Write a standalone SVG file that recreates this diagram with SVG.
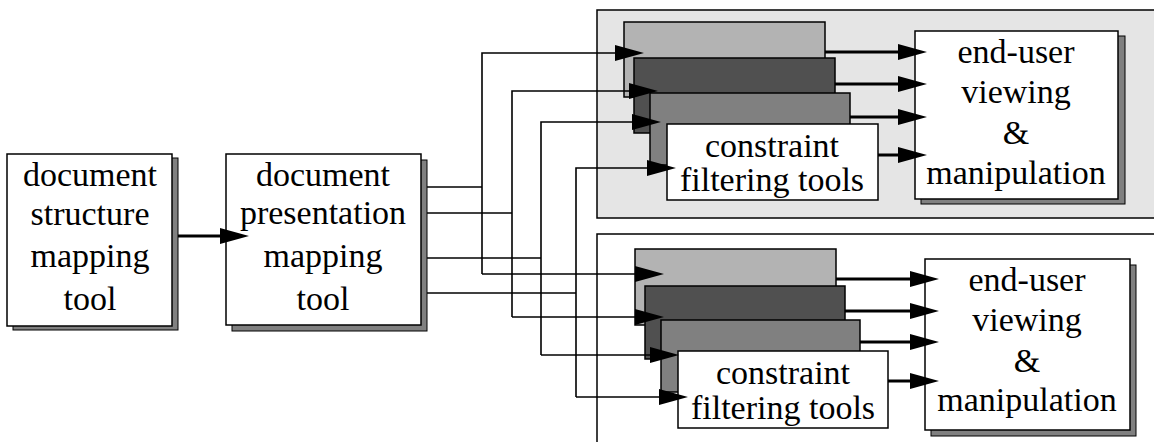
<svg xmlns="http://www.w3.org/2000/svg" width="1154" height="442" viewBox="0 0 1154 442">
<style>
  .lbl { font-family: "Liberation Serif", "Times New Roman", serif; font-size: 34px; fill: #000; text-anchor: middle; }
  .box { fill: #fff; stroke: #000; stroke-width: 1.5; }
  .shadow { fill: #808080; stroke: #000; stroke-width: 1; }
  .thin { fill: none; stroke: #000; stroke-width: 1.6; }
  .thick { fill: none; stroke: #000; stroke-width: 3; }
  .s1 { fill: #b3b3b3; stroke: #000; stroke-width: 1.5; }
  .s2 { fill: #505050; stroke: #000; stroke-width: 1.5; }
  .s3 { fill: #808080; stroke: #000; stroke-width: 1.5; }
</style>
<defs>
  <marker id="ah" markerUnits="userSpaceOnUse" markerWidth="30" markerHeight="18" refX="18" refY="9" orient="auto" viewBox="0 0 30 18">
    <path d="M0,1 L29,9 L0,17 z" fill="#000"/>
  </marker>
</defs>
<rect width="1154" height="442" fill="#fff"/>

<g id="panel-top">
  <rect x="597" y="10" width="580" height="208" fill="#e5e5e5" stroke="#000" stroke-width="1.5"/>
</g>
<g id="panel-bottom">
  <rect x="597" y="234" width="580" height="230" fill="#fff" stroke="#000" stroke-width="1.5"/>
</g>

<g id="structure-tool">
  <rect class="shadow" x="13" y="158" width="165" height="172"/>
  <rect class="box" x="7" y="154" width="165" height="172"/>
  <text class="lbl" x="90" y="186">document</text>
  <text class="lbl" x="90" y="225">structure</text>
  <text class="lbl" x="90" y="267">mapping</text>
  <text class="lbl" x="90" y="310">tool</text>
</g>

<g id="presentation-tool">
  <rect class="shadow" x="232" y="160" width="195" height="171"/>
  <rect class="box" x="226" y="154" width="195" height="171"/>
  <text class="lbl" x="323" y="186">document</text>
  <text class="lbl" x="323" y="224">presentation</text>
  <text class="lbl" x="323" y="267">mapping</text>
  <text class="lbl" x="323" y="310">tool</text>
</g>

<g id="stack-top">
  <rect class="s1" x="624" y="22" width="201" height="75"/>
  <rect class="s2" x="634" y="58" width="201" height="75"/>
  <rect class="s3" x="650" y="93" width="200" height="72"/>
  <rect class="box" x="667" y="124" width="211" height="76"/>
  <text class="lbl" x="772" y="157">constraint</text>
  <text class="lbl" x="772" y="191">filtering tools</text>
</g>

<g id="enduser-top">
  <rect class="shadow" x="921" y="36" width="204" height="168"/>
  <rect class="box" x="915" y="31" width="203" height="168"/>
  <text class="lbl" x="1016" y="63">end-user</text>
  <text class="lbl" x="1016" y="103">viewing</text>
  <text class="lbl" x="1016" y="144">&amp;</text>
  <text class="lbl" x="1016" y="184">manipulation</text>
</g>

<g id="stack-bottom">
  <rect class="s1" x="635" y="249" width="201" height="76"/>
  <rect class="s2" x="645" y="286" width="200" height="73"/>
  <rect class="s3" x="661" y="320" width="199" height="72"/>
  <rect class="box" x="678" y="351" width="210" height="77"/>
  <text class="lbl" x="783" y="384">constraint</text>
  <text class="lbl" x="783" y="419">filtering tools</text>
</g>

<g id="enduser-bottom">
  <rect class="shadow" x="931" y="265" width="205" height="171"/>
  <rect class="box" x="925" y="259" width="205" height="171"/>
  <text class="lbl" x="1027" y="291">end-user</text>
  <text class="lbl" x="1027" y="331">viewing</text>
  <text class="lbl" x="1027" y="372">&amp;</text>
  <text class="lbl" x="1027" y="411">manipulation</text>
</g>

<g id="connectors">
  <path class="thick" d="M178,236 H238" marker-end="url(#ah)"/>

  <path class="thin" d="M427,187 H482"/>
  <path class="thin" d="M482,274 V53 H633" marker-end="url(#ah)"/>
  <path class="thin" d="M482,274 H653" marker-end="url(#ah)"/>

  <path class="thin" d="M427,213 H512"/>
  <path class="thin" d="M512,317 V91 H647" marker-end="url(#ah)"/>
  <path class="thin" d="M512,317 H653" marker-end="url(#ah)"/>

  <path class="thin" d="M427,258 H541"/>
  <path class="thin" d="M541,355 V122 H650" marker-end="url(#ah)"/>
  <path class="thin" d="M541,355 H668" marker-end="url(#ah)"/>

  <path class="thin" d="M427,293 H576"/>
  <path class="thin" d="M576,397 V168 H665" marker-end="url(#ah)"/>
  <path class="thin" d="M576,397 H677" marker-end="url(#ah)"/>

  <path class="thick" d="M825,52 H916" marker-end="url(#ah)"/>
  <path class="thick" d="M835,84 H916" marker-end="url(#ah)"/>
  <path class="thick" d="M850,117 H916" marker-end="url(#ah)"/>
  <path class="thick" d="M878,155 H916" marker-end="url(#ah)"/>

  <path class="thick" d="M836,279 H928" marker-end="url(#ah)"/>
  <path class="thick" d="M845,311 H928" marker-end="url(#ah)"/>
  <path class="thick" d="M860,342 H928" marker-end="url(#ah)"/>
  <path class="thick" d="M888,381 H928" marker-end="url(#ah)"/>
</g>
</svg>
